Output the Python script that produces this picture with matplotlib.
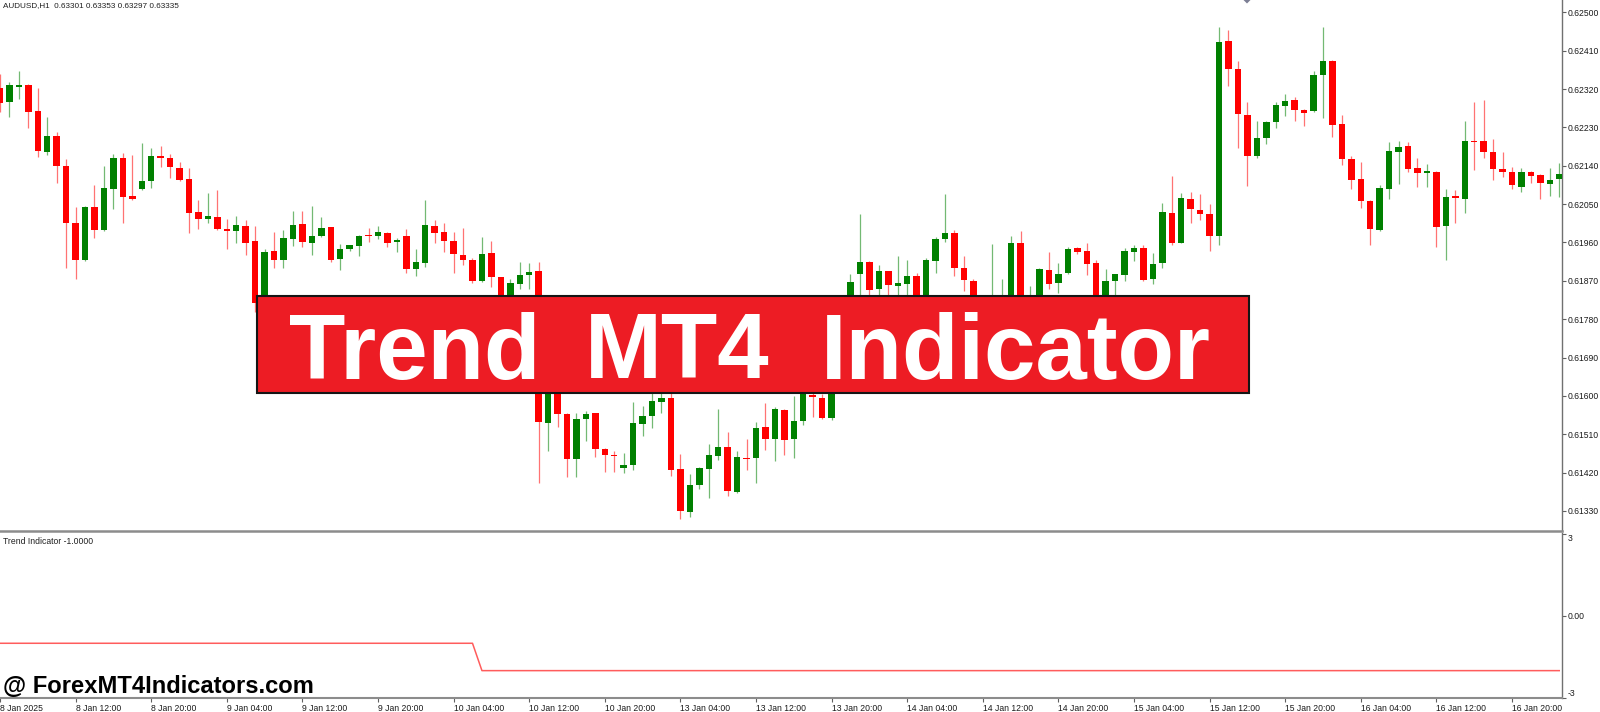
import matplotlib
matplotlib.use("Agg")
import matplotlib.pyplot as plt
from matplotlib import font_manager
from matplotlib.patches import Rectangle, Polygon

# ---------------- data ----------------
symbol_text = "AUDUSD,H1  0.63301 0.63353 0.63297 0.63335"
indicator_text = "Trend Indicator -1.0000"
banner_words = ["Trend", "MT4", "Indicator"]
watermark_text = "@ ForexMT4Indicators.com"

opens = [0.62322, 0.62290, 0.62325, 0.62329, 0.62268, 0.62173, 0.62210, 0.62140, 0.62006, 0.61919,
         0.62044, 0.61989, 0.62085, 0.62159, 0.62069, 0.62085, 0.62104, 0.62163, 0.62158, 0.62134,
         0.62108, 0.62031, 0.62015, 0.62020, 0.61992, 0.61987, 0.61999, 0.61963, 0.61825, 0.61941,
         0.61919, 0.61968, 0.62003, 0.61958, 0.61975, 0.61996, 0.61922, 0.61944, 0.61952, 0.61976,
         0.61975, 0.61983, 0.61960, 0.61975, 0.61897, 0.61911, 0.61999, 0.61984, 0.61963, 0.61931,
         0.61920, 0.61870, 0.61935, 0.61878, 0.61790, 0.61862, 0.61884, 0.61893, 0.61536, 0.61623,
         0.61558, 0.61453, 0.61545, 0.61559, 0.61475, 0.61461, 0.61430, 0.61437, 0.61534, 0.61553,
         0.61586, 0.61594, 0.61428, 0.61328, 0.61390, 0.61428, 0.61460, 0.61480, 0.61375, 0.61454,
         0.61454, 0.61527, 0.61500, 0.61567, 0.61498, 0.61541, 0.61602, 0.61596, 0.61547, 0.61736,
         0.61797, 0.61885, 0.61915, 0.61850, 0.61893, 0.61859, 0.61862, 0.61881, 0.61797, 0.61916,
         0.61969, 0.61983, 0.61899, 0.61870, 0.61783, 0.61743, 0.61778, 0.61820, 0.61958, 0.61783,
         0.61813, 0.61895, 0.61864, 0.61888, 0.61946, 0.61941, 0.61911, 0.61825, 0.61870, 0.61884,
         0.61938, 0.61946, 0.61874, 0.61911, 0.62028, 0.61959, 0.62062, 0.62036, 0.62026, 0.61975,
         0.62433, 0.62368, 0.62259, 0.62163, 0.62206, 0.62242, 0.62281, 0.62294, 0.62271, 0.62268,
         0.62354, 0.62386, 0.62238, 0.62156, 0.62109, 0.62057, 0.61989, 0.62085, 0.62173, 0.62186,
         0.62134, 0.62122, 0.62125, 0.61999, 0.62069, 0.62062, 0.62199, 0.62198, 0.62173, 0.62132,
         0.62125, 0.62091, 0.62125, 0.62118, 0.62097, 0.62108]
highs = [0.62355, 0.62337, 0.62363, 0.62331, 0.62322, 0.62254, 0.62218, 0.62155, 0.62044, 0.62046,
         0.62095, 0.62139, 0.62168, 0.62169, 0.62165, 0.62193, 0.62182, 0.62186, 0.62167, 0.62148,
         0.62134, 0.62060, 0.62077, 0.62083, 0.62014, 0.62022, 0.62013, 0.61999, 0.61945, 0.61985,
         0.61989, 0.62034, 0.62034, 0.62046, 0.62019, 0.61997, 0.61956, 0.61955, 0.61978, 0.61993,
         0.61999, 0.61984, 0.61970, 0.61991, 0.61944, 0.62060, 0.62013, 0.62005, 0.61984, 0.61995,
         0.61923, 0.61972, 0.61964, 0.61880, 0.61874, 0.61915, 0.61911, 0.61915, 0.61649, 0.61630,
         0.61559, 0.61561, 0.61565, 0.61561, 0.61478, 0.61470, 0.61467, 0.61586, 0.61576, 0.61608,
         0.61626, 0.61619, 0.61464, 0.61417, 0.61434, 0.61487, 0.61569, 0.61515, 0.61471, 0.61500,
         0.61538, 0.61583, 0.61573, 0.61569, 0.61600, 0.61614, 0.61626, 0.61604, 0.61748, 0.61813,
         0.61886, 0.62027, 0.61916, 0.61907, 0.61894, 0.61928, 0.61919, 0.61888, 0.61924, 0.61972,
         0.62074, 0.61989, 0.61928, 0.61874, 0.61797, 0.61956, 0.61874, 0.61974, 0.61988, 0.61858,
         0.61899, 0.61937, 0.61911, 0.61950, 0.61949, 0.61958, 0.61919, 0.61897, 0.61886, 0.61946,
         0.61954, 0.61954, 0.61935, 0.62052, 0.62117, 0.62077, 0.62079, 0.62074, 0.62050, 0.62466,
         0.62459, 0.62386, 0.62289, 0.62246, 0.62244, 0.62290, 0.62308, 0.62301, 0.62272, 0.62362,
         0.62465, 0.62388, 0.62259, 0.62163, 0.62148, 0.62060, 0.62095, 0.62196, 0.62199, 0.62196,
         0.62159, 0.62143, 0.62127, 0.62085, 0.62083, 0.62246, 0.62290, 0.62294, 0.62202, 0.62172,
         0.62138, 0.62134, 0.62128, 0.62120, 0.62134, 0.62147]
lows = [0.62267, 0.62255, 0.62297, 0.62228, 0.62161, 0.62165, 0.62100, 0.61899, 0.61874, 0.61917,
        0.61970, 0.61987, 0.62038, 0.62006, 0.62059, 0.62083, 0.62088, 0.62138, 0.62111, 0.62105,
        0.61982, 0.61992, 0.62006, 0.61990, 0.61944, 0.61958, 0.61931, 0.61798, 0.61811, 0.61899,
        0.61899, 0.61952, 0.61950, 0.61931, 0.61973, 0.61913, 0.61895, 0.61941, 0.61928, 0.61960,
        0.61967, 0.61949, 0.61938, 0.61888, 0.61881, 0.61903, 0.61959, 0.61937, 0.61888, 0.61907,
        0.61866, 0.61868, 0.61855, 0.61755, 0.61773, 0.61851, 0.61851, 0.61395, 0.61471, 0.61528,
        0.61409, 0.61409, 0.61495, 0.61457, 0.61421, 0.61421, 0.61420, 0.61426, 0.61507, 0.61525,
        0.61561, 0.61412, 0.61311, 0.61317, 0.61381, 0.61361, 0.61450, 0.61365, 0.61373, 0.61425,
        0.61396, 0.61473, 0.61447, 0.61461, 0.61454, 0.61532, 0.61551, 0.61545, 0.61543, 0.61719,
        0.61783, 0.61813, 0.61825, 0.61820, 0.61825, 0.61813, 0.61818, 0.61773, 0.61783, 0.61888,
        0.61962, 0.61881, 0.61845, 0.61759, 0.61703, 0.61719, 0.61755, 0.61802, 0.61766, 0.61759,
        0.61797, 0.61850, 0.61842, 0.61886, 0.61933, 0.61884, 0.61806, 0.61811, 0.61830, 0.61870,
        0.61917, 0.61870, 0.61862, 0.61899, 0.61954, 0.61958, 0.62005, 0.62013, 0.61941, 0.61955,
        0.62327, 0.62182, 0.62093, 0.62157, 0.62191, 0.62228, 0.62257, 0.62245, 0.62234, 0.62267,
        0.62251, 0.62208, 0.62142, 0.62085, 0.62042, 0.61955, 0.61987, 0.62061, 0.62097, 0.62126,
        0.62091, 0.62091, 0.61950, 0.61920, 0.62006, 0.62030, 0.62130, 0.62157, 0.62107, 0.62113,
        0.62085, 0.62079, 0.62099, 0.62061, 0.62069, 0.62067]
closes = [0.62288, 0.62329, 0.62329, 0.62265, 0.62175, 0.62210, 0.62140, 0.62006, 0.61919, 0.62044,
          0.61989, 0.62087, 0.62157, 0.62066, 0.62061, 0.62104, 0.62163, 0.62159, 0.62138, 0.62107,
          0.62030, 0.62014, 0.62022, 0.61992, 0.61988, 0.62001, 0.61959, 0.61817, 0.61938, 0.61920,
          0.61970, 0.62001, 0.61960, 0.61975, 0.61994, 0.61920, 0.61945, 0.61953, 0.61976, 0.61974,
          0.61985, 0.61959, 0.61966, 0.61897, 0.61913, 0.62000, 0.61982, 0.61964, 0.61932, 0.61920,
          0.61870, 0.61933, 0.61878, 0.61778, 0.61865, 0.61883, 0.61891, 0.61538, 0.61626, 0.61558,
          0.61451, 0.61546, 0.61558, 0.61475, 0.61462, 0.61459, 0.61438, 0.61537, 0.61553, 0.61588,
          0.61595, 0.61426, 0.61329, 0.61391, 0.61430, 0.61461, 0.61480, 0.61377, 0.61456, 0.61451,
          0.61524, 0.61498, 0.61569, 0.61497, 0.61542, 0.61604, 0.61598, 0.61549, 0.61731, 0.61790,
          0.61867, 0.61913, 0.61848, 0.61894, 0.61860, 0.61865, 0.61881, 0.61790, 0.61920, 0.61968,
          0.61983, 0.61899, 0.61872, 0.61783, 0.61731, 0.61813, 0.61820, 0.61958, 0.61790, 0.61813,
          0.61897, 0.61862, 0.61886, 0.61945, 0.61937, 0.61909, 0.61820, 0.61870, 0.61885, 0.61941,
          0.61948, 0.61872, 0.61909, 0.62031, 0.61959, 0.62064, 0.62038, 0.62026, 0.61976, 0.62431,
          0.62366, 0.62261, 0.62163, 0.62204, 0.62242, 0.62283, 0.62293, 0.62271, 0.62264, 0.62354,
          0.62386, 0.62236, 0.62155, 0.62107, 0.62057, 0.61991, 0.62087, 0.62175, 0.62185, 0.62132,
          0.62122, 0.62128, 0.61996, 0.62067, 0.62064, 0.62199, 0.62195, 0.62173, 0.62132, 0.62126,
          0.62095, 0.62125, 0.62117, 0.62100, 0.62107, 0.62121]

# trend indicator: -1 for the first 51 bars, -2 afterwards
trend_values = [-1.0] * 51 + [-2.0] * 115

price_ticks = [0.62500, 0.62410, 0.62320, 0.62230, 0.62140, 0.62050, 0.61960,
               0.61870, 0.61780, 0.61690, 0.61600, 0.61510, 0.61420, 0.61330]
price_labels = ["0.62500", "0.62410", "0.62320", "0.62230", "0.62140", "0.62050", "0.61960",
                "0.61870", "0.61780", "0.61690", "0.61600", "0.61510", "0.61420", "0.61330"]
time_tick_bars = [0, 8, 16, 24, 32, 40, 48, 56, 64, 72, 80, 88, 96, 104, 112, 120,
                  128, 136, 144, 152, 160]
time_labels = ["8 Jan 2025", "8 Jan 12:00", "8 Jan 20:00", "9 Jan 04:00", "9 Jan 12:00",
               "9 Jan 20:00", "10 Jan 04:00", "10 Jan 12:00", "10 Jan 20:00", "13 Jan 04:00",
               "13 Jan 12:00", "13 Jan 20:00", "14 Jan 04:00", "14 Jan 12:00", "14 Jan 20:00",
               "15 Jan 04:00", "15 Jan 12:00", "15 Jan 20:00", "16 Jan 04:00", "16 Jan 12:00",
               "16 Jan 20:00"]
ind_ticks = [3, 0, -3]
ind_labels = ["3", "0.00", "-3"]

# ---------------- layout ----------------
W, H, DPI = 1600, 712, 100
def fx(px): return px / W
def fy(py): return 1 - py / H

names = {f.name for f in font_manager.fontManager.ttflist}
small_font = "Liberation Sans Narrow" if "Liberation Sans Narrow" in names else "Liberation Sans"
small_size = 7.0 if small_font == "Liberation Sans Narrow" else 6.2
bold_font = "Liberation Sans" if "Liberation Sans" in names else "DejaVu Sans"

fig = plt.figure(figsize=(W / DPI, H / DPI), dpi=DPI, facecolor="white")

RIGHT = 1561.7
ax = fig.add_axes([0, fy(531), fx(RIGHT), 531 / H])
ax2 = fig.add_axes([0, fy(698), fx(RIGHT), (698 - 533) / H])

n = len(opens)
idx = list(range(n))
BAR_W = 0.68
px_price = (0.6252886 - 0.6128300) / 531.0
min_h = 1.3 * px_price

RED = "#FF0000"
GREEN = "#008000"
for i in idx:
    o, h, l, c = opens[i], highs[i], lows[i], closes[i]
    col = GREEN if c > o else RED
    ax.vlines(i, l, h, color=col, lw=0.9, alpha=0.55, zorder=2)
    bottom = min(o, c)
    height = max(abs(c - o), min_h)
    ax.bar(i, height, bottom=bottom, width=BAR_W, color=col, lw=0, zorder=3)

ax.set_xlim(0, 165.26)
ax.set_ylim(0.6128300, 0.6252886)
ax.set_xticks([])
ax.yaxis.tick_right()
ax.set_yticks(price_ticks)
ax.set_yticklabels(price_labels, fontsize=small_size, family=small_font, color="#1a1a1a")
ax.tick_params(axis="y", direction="out", length=3, width=0.8, pad=1.5, color="#606060")
for s in ["top", "left"]:
    ax.spines[s].set_visible(False)
ax.spines["right"].set_color("#707070")
ax.spines["right"].set_linewidth(1.0)
ax.spines["bottom"].set_color("#8c8c8c")
ax.spines["bottom"].set_linewidth(1.8)

# indicator panel
ax2.plot(idx, trend_values, color="#FF5C5C", lw=1.1, zorder=3)
ax2.set_xlim(0, 165.26)
ax2.set_ylim(-3.0, 3.03)
ax2.yaxis.tick_right()
ax2.set_yticks(ind_ticks)
ylabs = ax2.set_yticklabels(ind_labels, fontsize=small_size, family=small_font, color="#1a1a1a")
ylabs[0].set_va("top")
ylabs[2].set_va("bottom")
ax2.tick_params(axis="y", direction="out", length=3, width=0.8, pad=1.5, color="#606060")
ax2.set_xticks(time_tick_bars)
xlabs = ax2.set_xticklabels(time_labels, fontsize=small_size, family=small_font, color="#1a1a1a")
for t in xlabs:
    t.set_ha("left")
ax2.tick_params(axis="x", direction="out", length=3, width=0.8, pad=1.5, color="#606060")
for s in ["top", "left"]:
    ax2.spines[s].set_visible(False)
ax2.spines["right"].set_color("#707070")
ax2.spines["right"].set_linewidth(1.0)
ax2.spines["bottom"].set_color("#8c8c8c")
ax2.spines["bottom"].set_linewidth(1.5)

# texts
fig.text(fx(3), fy(5.5), symbol_text, ha="left", va="center", fontsize=small_size - 0.3,
         family=small_font, color="#202020")
fig.text(fx(3), fy(542), indicator_text, ha="left", va="center", fontsize=small_size,
         family=small_font, color="#202020")

# small grey marker at the top edge
fig.add_artist(Polygon([(fx(1242.5), fy(-1)), (fx(1251.5), fy(-1)), (fx(1247), fy(3.5))],
                       closed=True, transform=fig.transFigure, facecolor="#7c7f94",
                       edgecolor="none", zorder=5))

# banner
fig.add_artist(Rectangle((fx(257), fy(393)), (1249 - 257) / W, (393 - 296) / H,
                         transform=fig.transFigure, facecolor="#ED1C24",
                         edgecolor="#151515", lw=1.5, zorder=10))
word_centers = [414.5, 677.5, 1016.0]
for word, cx in zip(banner_words, word_centers):
    fig.text(fx(cx), fy(378.5), word, ha="center", va="baseline", color="white",
             fontsize=66.5, fontweight="bold", family=bold_font, zorder=11)

wm = fig.text(fx(3.3), fy(693.3), watermark_text, ha="left", va="baseline",
              color="black", fontsize=15, fontweight="bold", family=bold_font, zorder=11)

fig.canvas.draw()
r = fig.canvas.get_renderer()
ww = wm.get_window_extent(r).width
wm.set_fontsize(15 * 312.0 / ww)

fig.savefig("out.png", dpi=DPI, facecolor="white")
